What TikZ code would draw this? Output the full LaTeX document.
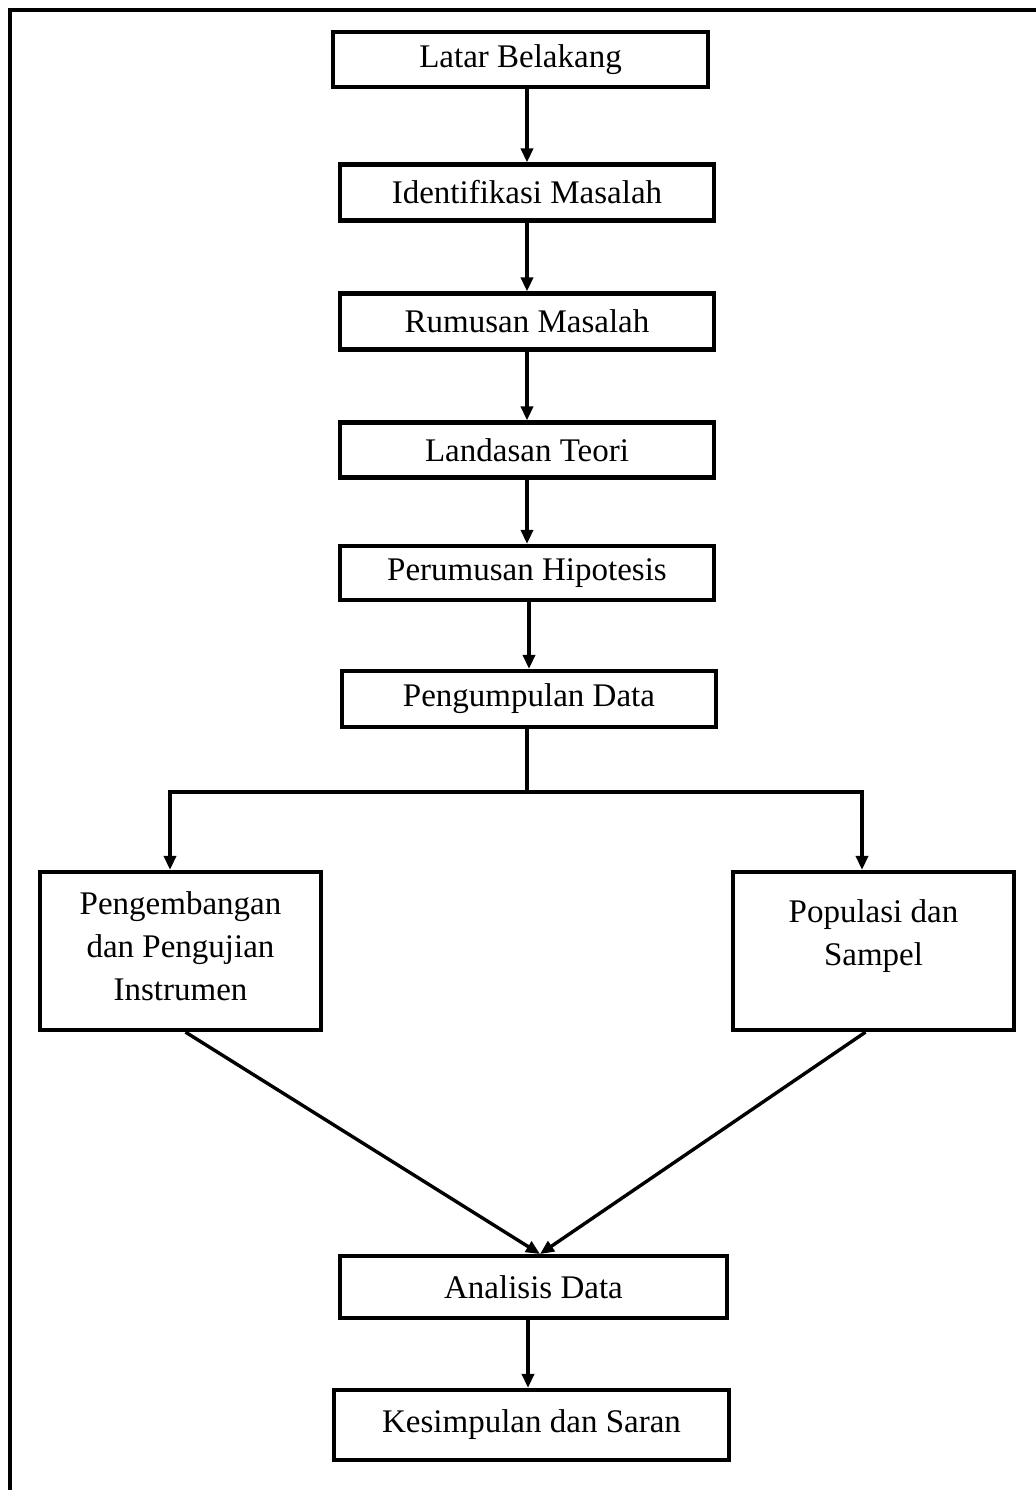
\documentclass[tikz,border=0pt]{standalone}
\usepackage{fontspec}
\setmainfont{Liberation Serif}
\usetikzlibrary{arrows.meta}

\tikzset{
  box/.style={draw, line width=2.1pt, align=center, inner sep=0pt,
    font=\fontsize{16.5}{21.5}\selectfont},
  arr/.style={line width=1.7pt, -{Triangle[length=7pt,width=6pt]}},
}

\begin{document}
\begin{tikzpicture}[x=0.5pt, y=-0.5pt]
    \useasboundingbox (0,0) rectangle (1036,1490);

    % Outer frame (only the top and left edges are on the page)
    \draw[line width=1.6pt] (10,1520) -- (10,10) -- (1060,10);

    % Main chain of steps
    \node[box, minimum width=187.5pt, minimum height=27.5pt] (lat) at (520.5,59.5) {Latar Belakang};
    \node[box, minimum width=187pt, minimum height=28pt] (idn) at (527,192.5) {Identifikasi Masalah};
    \node[box, minimum width=187pt, minimum height=28pt] (rum) at (527,321.5) {Rumusan Masalah};
    \node[box, minimum width=187pt, minimum height=27.5pt] (lan) at (527,450) {Landasan Teori};
    \node[box, minimum width=187pt, minimum height=27pt] (hip) at (527,573) {Perumusan Hipotesis};
    \node[box, minimum width=187pt, minimum height=28pt] (data) at (529,699) {Pengumpulan Data};

    % Two branches
    \node[box, minimum width=140.5pt, minimum height=79pt, text depth=5pt] (dev) at (180.5,951) {Pengembangan\\dan Pengujian\\Instrumen};
    \node[box, minimum width=140.5pt, minimum height=79pt, text depth=18pt] (pop) at (873.5,951) {Populasi dan\\Sampel};

    % Final steps
    \node[box, minimum width=193.5pt, minimum height=31pt] (ana) at (533.5,1287) {Analisis Data};
    \node[box, minimum width=197.5pt, minimum height=35pt] (kes) at (531.5,1425) {Kesimpulan dan Saran};

    % Arrows down the chain
    \foreach \a/\b in {lat/idn, idn/rum, rum/lan, lan/hip, hip/data}
        \draw[arr] (\b.north |- \a.south) -- (\b.north);

    % Split into the two branches
    \coordinate (split) at (527,792);
    \coordinate (jl) at (170,792);
    \coordinate (jr) at (862,792);
    \draw[line width=1.7pt] (data.south -| split) -- (split);
    \draw[arr] (split) -| (jl |- dev.north);
    \draw[arr] (split) -| (jr |- pop.north);

    % Branches meet again
    \coordinate (meet) at (540,1254);
    \draw[arr] ([xshift=2.5pt]dev.south) -- (meet);
    \draw[arr] ([xshift=-4pt]pop.south) -- (meet);
    \draw[arr] (ana.south -| 528,0) -- (kes.north -| 528,0);
\end{tikzpicture}
\end{document}
